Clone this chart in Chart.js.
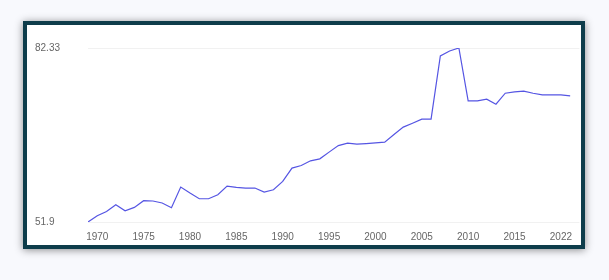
<!DOCTYPE html>
<html>
<head>
<meta charset="utf-8">
<script src="https://cdn.jsdelivr.net/npm/chart.js@4"></script>
<style>
  html, body { margin: 0; padding: 0; background: #f8f9fd; }
  .card {
    position: absolute;
    left: 23px; top: 21px;
    width: 554px; height: 220px;
    border: 4px solid #0e3d4b;
    background: #fff;
    box-shadow: 0 1px 8px rgba(0, 0, 0, 0.45);
  }
  .card canvas { display: block; }
</style>
</head>
<body>
<div class="card"><canvas class="myChart" width="554" height="220"></canvas></div>
<script>
// Years and values
var years = [1969, 1970, 1971, 1972, 1973, 1974, 1975, 1976, 1977, 1978,
  1979, 1980, 1981, 1982, 1983, 1984, 1985, 1986, 1987, 1988,
  1989, 1990, 1991, 1992, 1993, 1994, 1995, 1996, 1997, 1998,
  1999, 2000, 2001, 2002, 2003, 2004, 2005, 2006, 2007, 2008,
  2009, 2010, 2011, 2012, 2013, 2014, 2015, 2016, 2017, 2018,
  2019, 2020, 2021];
var values = [51.9, 53.0, 53.75, 54.92, 53.87, 54.45, 55.62, 55.57, 55.22, 54.4,
  58.01, 56.96, 55.97, 55.97, 56.67, 58.18, 57.94, 57.84, 57.84, 57.14,
  57.54, 58.99, 61.33, 61.78, 62.6, 62.95, 64.12, 65.27, 65.69, 65.52,
  65.62, 65.74, 65.87, 67.19, 68.49, 69.18, 69.88, 69.88, 80.93, 81.8,
  82.33, 73.08, 73.08, 73.37, 72.5, 74.42, 74.65, 74.77, 74.42, 74.12,
  74.12, 74.12, 73.95];

// Tick positions and the labels shown under them
var tickYears = [1970, 1975, 1980, 1985, 1990, 1995, 2000, 2005, 2010, 2015, 2020];
var tickLabels = ['1970', '1975', '1980', '1985', '1990', '1995', '2000', '2005', '2010', '2015', '2022'];
var yTicks = [51.9, 82.33];
var yTickLabels = ['51.9', '82.33'];

var chartElement = document.getElementsByClassName('myChart')[0];

var points = years.map(function(y, i) { return { x: y, y: values[i] }; });

var chart = new Chart(chartElement, {
  type: 'line',
  data: {
    datasets: [{
      data: points,
      borderColor: '#5555e3',
      borderWidth: 1.2,
      pointRadius: 0,
      tension: 0,
      fill: false
    }]
  },
  options: {
    responsive: false,
    animation: false,
    layout: { padding: { top: 23, left: 8, right: 0, bottom: -7 } },
    plugins: {
      legend: { display: false },
      tooltip: { enabled: false }
    },
    scales: {
      x: {
        type: 'linear',
        min: 1969,
        max: 2022,
        grid: { display: false, drawTicks: false },
        border: { display: false },
        afterBuildTicks: function(axis) {
          axis.ticks = tickYears.map(function(v) { return { value: v }; });
        },
        ticks: {
          autoSkip: false,
          maxRotation: 0,
          padding: 9,
          color: '#666',
          font: { family: 'Liberation Sans', size: 10 },
          callback: function(value) { return tickLabels[tickYears.indexOf(value)]; }
        }
      },
      y: {
        min: 51.9,
        max: 82.33,
        grid: { color: '#f1f1f1', drawTicks: false },
        border: { display: false },
        afterBuildTicks: function(axis) {
          axis.ticks = yTicks.map(function(v) { return { value: v }; });
        },
        afterFit: function(axis) { axis.width = 53; },
        ticks: {
          crossAlign: 'far',
          color: '#666',
          font: { family: 'Liberation Sans', size: 10 },
          callback: function(value) { return yTickLabels[yTicks.indexOf(value)]; }
        }
      }
    }
  }
});
</script>
</body>
</html>
